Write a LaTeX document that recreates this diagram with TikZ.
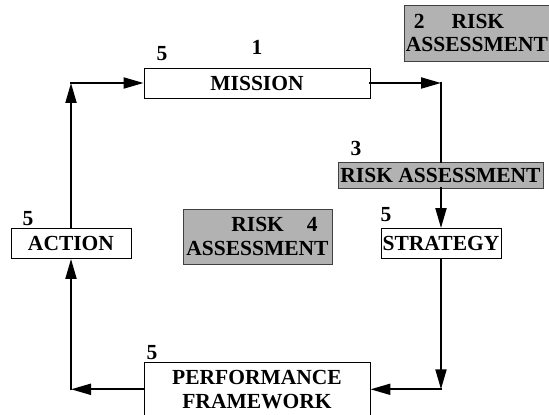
\documentclass[tikz,border=0pt]{standalone}
\usepackage{fontspec}
\setmainfont{Liberation Serif}
\usepackage{xcolor}
\usetikzlibrary{arrows.meta}
\definecolor{boxgray}{RGB}{178,178,178}
\definecolor{edgegray}{RGB}{64,64,64}
\tikzset{
    x=1pt, y=1pt, % one unit is one pixel of the picture
    >={Triangle[length=20pt,width=11pt]}, % long thin heads
    every node/.style={font=\fontsize{21.5}{23.5}\selectfont\bfseries},
    block/.style={draw=black, line width=0.9pt, fill=white, inner sep=0pt, align=center}, % white boxes of the loop
    riskbox/.style={draw=edgegray, line width=0.9pt, fill=boxgray, inner sep=0pt}, % grey risk boxes
    num/.style={inner sep=0pt}, % step numbers
}
\tikzstyle{arrow} = [line width=2pt, line cap=rect, ->]
\tikzstyle{link} = [line width=2pt, line cap=rect]

\begin{document}
\begin{tikzpicture}
    \useasboundingbox (0,0) rectangle (549,415);

    % Loop
    \node[block, minimum width=226pt, minimum height=30pt] (mission) at (257,332) {MISSION};
    \node[block, minimum width=120pt, minimum height=30pt] (action) at (71,171.5) {ACTION};
    \node[block, minimum width=120pt, minimum height=30pt] (strategy) at (441,171.5) {STRATEGY};
    \node[block, minimum width=226pt, minimum height=53.5pt] (perf) at (257,25.7) {PERFORMANCE\\FRAMEWORK};

    % Risk
    \node[riskbox, minimum width=146pt, minimum height=56pt, align=left] (risktwo) at (477,382) {\hspace*{8pt}2\hspace{27pt}RISK\\ASSESSMENT};
    \node[riskbox, minimum width=205pt, minimum height=26pt] (riskthree) at (440.5,240) {RISK ASSESSMENT};
    \node[riskbox, minimum width=149pt, minimum height=55pt, align=left] (riskfour) at (257.5,178.3) {\hspace*{45pt}RISK\hspace{23pt}4\\ASSESSMENT};

    % Numbers
    \node[num] (one) at (257,368) {1};
    \node[num] (three) at (356,267) {3};
    \node[num] (fivem) at (162,361.7) {5};
    \node[num] (fivea) at (28,196.7) {5};
    \node[num] (fives) at (386,200) {5};
    \node[num] (fivep) at (152,62) {5};

    \coordinate (tl) at (action |- mission);
    \coordinate (tr) at (strategy |- mission);
    \coordinate (br) at (strategy |- perf);
    \coordinate (bl) at (action |- perf);

    % Connections
    \draw[arrow] (mission.east) -- (tr);
    \draw[link] (tr) -- (tr |- riskthree.north);
    \draw[arrow] (riskthree.south -| strategy) -- (strategy.north);
    \draw[arrow] (strategy.south) -- (br);
    \draw[arrow] (br) -- (perf.east);
    \draw[arrow] (perf.west) -- (bl);
    \draw[arrow] (bl) -- (action.south);
    \draw[arrow] (action.north) -- (tl);
    \draw[arrow] (tl) -- (mission.west);
\end{tikzpicture}
\end{document}
